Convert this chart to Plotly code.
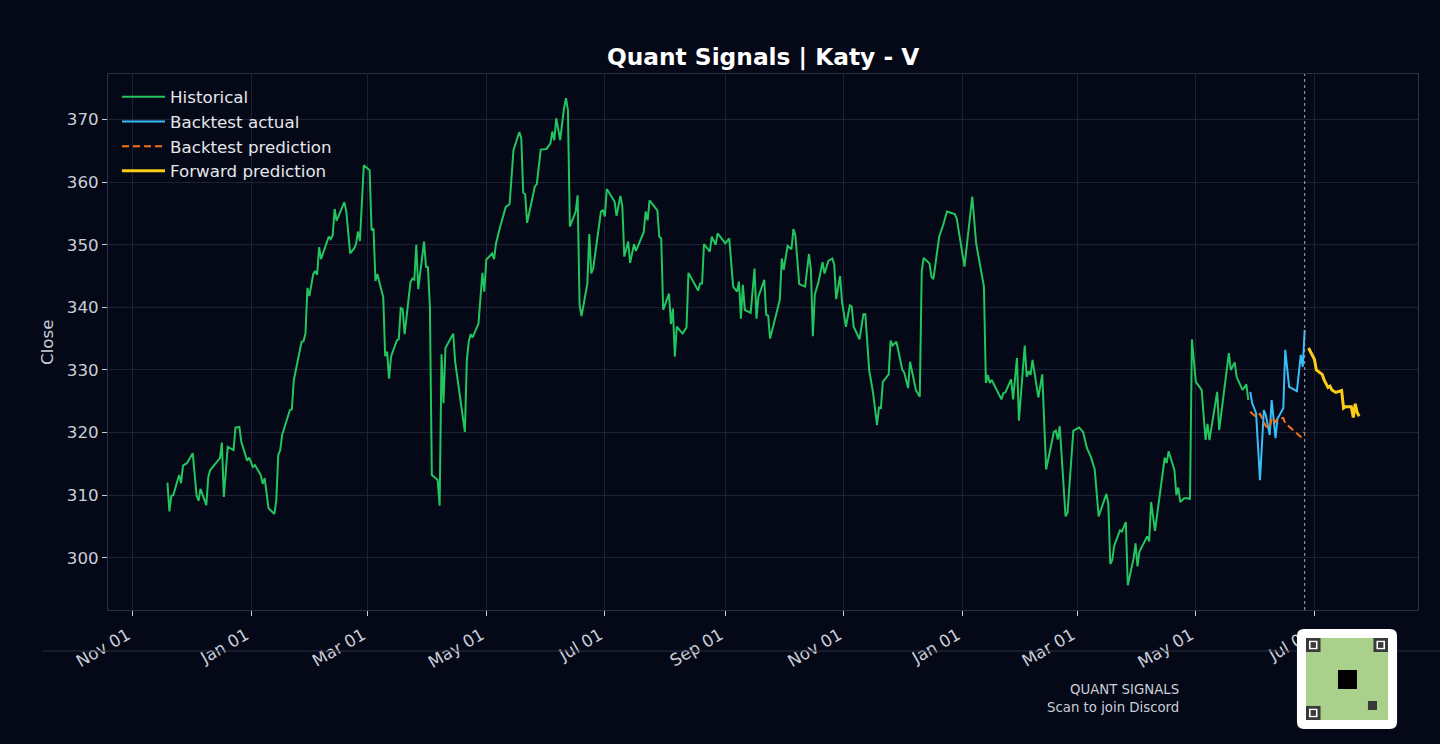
import plotly.graph_objects as go

# ---------------- data ----------------
hist_dates = [
    "2023-11-19", "2023-11-20", "2023-11-21", "2023-11-22", "2023-11-25", "2023-11-26", "2023-11-27", "2023-11-29",
    "2023-12-02", "2023-12-04", "2023-12-05", "2023-12-06", "2023-12-09", "2023-12-10", "2023-12-11", "2023-12-16",
    "2023-12-17", "2023-12-18", "2023-12-20", "2023-12-23", "2023-12-24", "2023-12-26", "2023-12-27", "2023-12-30",
    "2023-12-31", "2024-01-02", "2024-01-03", "2024-01-06", "2024-01-07", "2024-01-08", "2024-01-10", "2024-01-13",
    "2024-01-14", "2024-01-15", "2024-01-16", "2024-01-17", "2024-01-21", "2024-01-22", "2024-01-23", "2024-01-27",
    "2024-01-28", "2024-01-29", "2024-01-30", "2024-01-31", "2024-02-02", "2024-02-03", "2024-02-04", "2024-02-05",
    "2024-02-06", "2024-02-10", "2024-02-11", "2024-02-12", "2024-02-13", "2024-02-14", "2024-02-18", "2024-02-19",
    "2024-02-21", "2024-02-23", "2024-02-24", "2024-02-25", "2024-02-26", "2024-02-28", "2024-03-02", "2024-03-03",
    "2024-03-04", "2024-03-05", "2024-03-06", "2024-03-09", "2024-03-10", "2024-03-11", "2024-03-12", "2024-03-13",
    "2024-03-16", "2024-03-17", "2024-03-18", "2024-03-19", "2024-03-20", "2024-03-23", "2024-03-24", "2024-03-25",
    "2024-03-26", "2024-03-27", "2024-03-30", "2024-03-31", "2024-04-01", "2024-04-02", "2024-04-03", "2024-04-06",
    "2024-04-07", "2024-04-08", "2024-04-09", "2024-04-10", "2024-04-14", "2024-04-15", "2024-04-20", "2024-04-21",
    "2024-04-22", "2024-04-23", "2024-04-24", "2024-04-27", "2024-04-29", "2024-04-30", "2024-05-01", "2024-05-04",
    "2024-05-05", "2024-05-06", "2024-05-08", "2024-05-11", "2024-05-13", "2024-05-15", "2024-05-18", "2024-05-19",
    "2024-05-20", "2024-05-21", "2024-05-22", "2024-05-26", "2024-05-27", "2024-05-29", "2024-06-01", "2024-06-03",
    "2024-06-04", "2024-06-05", "2024-06-06", "2024-06-08", "2024-06-10", "2024-06-11", "2024-06-12", "2024-06-13",
    "2024-06-16", "2024-06-17", "2024-06-18", "2024-06-19", "2024-06-22", "2024-06-23", "2024-06-24", "2024-06-25",
    "2024-06-29", "2024-06-30", "2024-07-01", "2024-07-02", "2024-07-06", "2024-07-07", "2024-07-09", "2024-07-10",
    "2024-07-11", "2024-07-13", "2024-07-14", "2024-07-16", "2024-07-17", "2024-07-21", "2024-07-22", "2024-07-23",
    "2024-07-24", "2024-07-28", "2024-07-29", "2024-07-30", "2024-07-31", "2024-08-03", "2024-08-04", "2024-08-05",
    "2024-08-06", "2024-08-07", "2024-08-10", "2024-08-12", "2024-08-13", "2024-08-18", "2024-08-19", "2024-08-20",
    "2024-08-21", "2024-08-24", "2024-08-25", "2024-08-27", "2024-08-28", "2024-09-01", "2024-09-03", "2024-09-05",
    "2024-09-07", "2024-09-08", "2024-09-09", "2024-09-10", "2024-09-11", "2024-09-14", "2024-09-16", "2024-09-17",
    "2024-09-18", "2024-09-21", "2024-09-22", "2024-09-23", "2024-09-24", "2024-09-26", "2024-09-29", "2024-09-30",
    "2024-10-01", "2024-10-03", "2024-10-05", "2024-10-06", "2024-10-07", "2024-10-09", "2024-10-12", "2024-10-14",
    "2024-10-15", "2024-10-16", "2024-10-17", "2024-10-19", "2024-10-21", "2024-10-22", "2024-10-24", "2024-10-26",
    "2024-10-27", "2024-10-28", "2024-10-30", "2024-10-31", "2024-11-02", "2024-11-04", "2024-11-05", "2024-11-06",
    "2024-11-09", "2024-11-11", "2024-11-12", "2024-11-14", "2024-11-16", "2024-11-18", "2024-11-19", "2024-11-20",
    "2024-11-21", "2024-11-24", "2024-11-25", "2024-11-26", "2024-11-28", "2024-12-01", "2024-12-02", "2024-12-04",
    "2024-12-05", "2024-12-08", "2024-12-10", "2024-12-11", "2024-12-12", "2024-12-15", "2024-12-16", "2024-12-17",
    "2024-12-19", "2024-12-20", "2024-12-22", "2024-12-24", "2024-12-28", "2024-12-29", "2025-01-02", "2025-01-06",
    "2025-01-08", "2025-01-12", "2025-01-13", "2025-01-14", "2025-01-15", "2025-01-16", "2025-01-21", "2025-01-22",
    "2025-01-23", "2025-01-26", "2025-01-27", "2025-01-29", "2025-01-30", "2025-02-02", "2025-02-03", "2025-02-04",
    "2025-02-05", "2025-02-06", "2025-02-09", "2025-02-11", "2025-02-13", "2025-02-17", "2025-02-18", "2025-02-19",
    "2025-02-20", "2025-02-23", "2025-02-24", "2025-02-27", "2025-03-02", "2025-03-04", "2025-03-06", "2025-03-08",
    "2025-03-10", "2025-03-12", "2025-03-16", "2025-03-17", "2025-03-18", "2025-03-19", "2025-03-20", "2025-03-23",
    "2025-03-24", "2025-03-26", "2025-03-27", "2025-03-30", "2025-03-31", "2025-04-01", "2025-04-02", "2025-04-06",
    "2025-04-07", "2025-04-08", "2025-04-10", "2025-04-13", "2025-04-15", "2025-04-16", "2025-04-17", "2025-04-20",
    "2025-04-21", "2025-04-22", "2025-04-23", "2025-04-25", "2025-04-27", "2025-04-28", "2025-04-29", "2025-05-01",
    "2025-05-04", "2025-05-06", "2025-05-07", "2025-05-08", "2025-05-12", "2025-05-13", "2025-05-18", "2025-05-19",
    "2025-05-21", "2025-05-22", "2025-05-25", "2025-05-27", "2025-05-28",
]
hist_close = [
    312.0, 307.4, 309.9, 310.0, 313.2, 311.9, 314.7, 315.1,
    316.7, 309.9, 309.1, 311.0, 308.4, 312.9, 314.0, 315.9,
    318.4, 309.7, 317.7, 317.2, 320.8, 320.9, 318.5, 315.5,
    316.0, 314.5, 314.8, 313.2, 311.8, 312.7, 307.9, 307.0,
    309.2, 316.4, 317.2, 319.6, 323.6, 323.7, 328.4, 334.5,
    334.6, 335.8, 343.1, 341.8, 345.3, 345.8, 345.2, 349.6,
    347.7, 351.3, 350.9, 351.5, 355.7, 353.8, 356.8, 355.3,
    348.6, 349.4, 350.1, 352.1, 350.6, 362.7, 361.9, 352.3,
    352.6, 344.2, 345.3, 341.6, 332.2, 332.9, 328.6, 332.1,
    334.7, 334.9, 339.9, 339.7, 335.7, 344.0, 344.6, 344.4,
    350.0, 342.9, 350.5, 346.5, 346.4, 340.1, 313.2, 312.4,
    308.3, 332.5, 324.7, 333.5, 335.8, 331.3, 320.1, 331.6,
    334.5, 335.7, 335.2, 337.4, 345.5, 342.5, 347.6, 348.6,
    347.7, 350.2, 352.7, 356.0, 356.5, 365.1, 368.0, 367.0,
    358.3, 358.1, 353.5, 359.3, 359.7, 365.2, 365.3, 366.2,
    368.1, 366.7, 370.2, 366.7, 371.8, 373.4, 371.5, 352.9,
    355.3, 357.9, 340.4, 338.6, 343.8, 351.7, 345.4, 346.2,
    355.3, 355.5, 354.5, 358.9, 356.9, 354.6, 357.8, 356.1,
    348.1, 350.5, 347.1, 350.1, 349.0, 352.0, 355.3, 353.9,
    357.1, 355.5, 351.3, 351.0, 339.6, 342.2, 337.3, 339.8,
    332.1, 336.9, 335.8, 336.8, 345.5, 342.7, 343.8, 343.8,
    350.1, 348.9, 351.3, 350.0, 351.8, 350.2, 351.0, 343.3,
    342.5, 344.1, 338.2, 343.6, 339.6, 339.1, 346.2, 338.2,
    341.7, 344.4, 338.8, 338.7, 335.0, 337.4, 341.2, 347.8,
    346.0, 349.8, 349.3, 352.5, 351.5, 343.7, 343.3, 348.5,
    346.0, 335.4, 342.0, 344.2, 347.2, 345.4, 347.4, 347.8,
    346.8, 341.3, 345.0, 340.9, 336.9, 340.3, 340.1, 336.9,
    334.9, 338.9, 338.9, 329.9, 326.3, 321.2, 324.0, 323.9,
    328.1, 329.3, 334.7, 333.9, 334.5, 330.0, 329.6, 327.1,
    331.3, 326.8, 325.7, 345.7, 347.9, 347.0, 344.9, 344.5,
    349.2, 351.3, 353.1, 355.3, 354.9, 354.2, 346.5, 357.7,
    350.2, 343.3, 327.9, 329.2, 327.9, 328.4, 325.3, 326.3,
    326.4, 328.5, 325.3, 331.9, 321.9, 333.9, 328.9, 329.8,
    329.2, 331.6, 325.6, 329.3, 314.1, 320.1, 320.3, 318.9,
    321.0, 306.6, 307.2, 320.3, 320.8, 320.1, 317.5, 316.1,
    314.1, 306.6, 310.2, 308.6, 299.0, 299.6, 301.9, 304.4,
    304.2, 305.7, 295.6, 299.9, 302.3, 298.6, 301.0, 303.4,
    302.6, 308.9, 304.3, 311.3, 316.0, 315.1, 317.0, 314.0,
    310.0, 311.2, 308.9, 309.5, 309.5, 309.3, 334.9, 328.1,
    326.8, 318.8, 321.4, 318.8, 326.5, 320.4, 332.7, 330.0,
    331.2, 328.9, 326.8, 327.7, 325.2,
]

bt_dates = [
    "2025-05-29", "2025-05-30", "2025-06-01", "2025-06-03", "2025-06-05", "2025-06-06", "2025-06-08", "2025-06-09",
    "2025-06-11", "2025-06-12", "2025-06-15", "2025-06-16", "2025-06-18", "2025-06-22", "2025-06-24", "2025-06-25",
    "2025-06-26",
]
bt_actual = [
    326.5, 324.7, 323.1, 312.4, 323.6, 322.8, 319.6, 325.2,
    319.1, 322.2, 323.9, 333.2, 327.3, 326.6, 332.4, 330.5,
    336.4,
]

bt_pred_dates = [
    "2025-05-29", "2025-06-01", "2025-06-03", "2025-06-05", "2025-06-06", "2025-06-08", "2025-06-09", "2025-06-11",
    "2025-06-12", "2025-06-15", "2025-06-16", "2025-06-20", "2025-06-24", "2025-06-26",
]
bt_pred = [
    323.3, 322.5, 323.0, 321.7, 321.0, 320.7, 322.4, 321.7,
    322.2, 322.3, 321.5, 320.4, 319.3, 320.1,
]

fwd_dates = [
    "2025-06-28", "2025-06-30", "2025-07-01", "2025-07-02", "2025-07-05", "2025-07-06", "2025-07-08", "2025-07-09",
    "2025-07-10", "2025-07-12", "2025-07-13", "2025-07-15", "2025-07-16", "2025-07-17", "2025-07-20", "2025-07-21",
    "2025-07-22", "2025-07-23", "2025-07-24",
]
fwd_pred = [
    333.5, 332.4, 331.7, 330.0, 329.3, 328.4, 327.2, 327.4,
    326.8, 326.4, 326.5, 326.7, 323.9, 324.1, 324.1, 322.4,
    324.6, 323.2, 322.6,
]

split_date = "2025-06-26"
title_text = "Quant Signals | Katy - V"
y_ticks = [300, 310, 320, 330, 340, 350, 360, 370]

# ---------------- styling ----------------
BG = "#050816"
GRID = "#1c2231"
FRAME = "#2a3142"
TXT = "#c9ced8"
FONT = "DejaVu Sans"

fig = go.Figure()
fig.add_trace(go.Scatter(x=hist_dates, y=hist_close, mode="lines", name="Historical",
                         line=dict(color="#22c55e", width=2), legendgroup="a"))
fig.add_trace(go.Scatter(x=bt_dates, y=bt_actual, mode="lines", name="Backtest actual",
                         line=dict(color="#38bdf8", width=2), legendgroup="b"))
fig.add_trace(go.Scatter(x=bt_pred_dates, y=bt_pred, mode="lines", name="Backtest prediction",
                         line=dict(color="#f97316", width=2, dash="7px,4px"), legendgroup="c"))
fig.add_trace(go.Scatter(x=fwd_dates, y=fwd_pred, mode="lines", name="Forward prediction",
                         line=dict(color="#facc15", width=3), legendgroup="d"))

fig.add_shape(type="line", xref="x", yref="paper", x0=split_date, x1=split_date, y0=0, y1=1,
              line=dict(color="#a3a9b6", width=1, dash="dot"))

# footer separator line
fig.add_shape(type="line", xref="paper", yref="paper", x0=-0.0496, x1=1.02, y0=-0.0765, y1=-0.0765,
              line=dict(color="#2a3142", width=1))

# QR badge (decorative)
fig.add_shape(type="path", xref="paper", yref="paper",
              path="M 0.9130,-0.0354 L 0.9786,-0.0354 Q 0.9840,-0.0354 0.9840,-0.0485 "
                   "L 0.9840,-0.2089 Q 0.9840,-0.2220 0.9786,-0.2220 L 0.9130,-0.2220 "
                   "Q 0.9076,-0.2220 0.9076,-0.2089 L 0.9076,-0.0485 Q 0.9076,-0.0354 0.9130,-0.0354 Z",
              fillcolor="white", line=dict(color="white", width=0), layer="above")
fig.add_shape(type="rect", xref="paper", yref="paper", x0=0.9145, x1=0.9771, y0=-0.2052, y1=-0.0522,
              fillcolor="#a9d18c", line=dict(width=0), layer="above")
for (qx, qy) in [(0.9145, -0.0522), (0.9660, -0.0522), (0.9145, -0.1790)]:
    fig.add_shape(type="rect", xref="paper", yref="paper", x0=qx, x1=qx + 0.0111, y0=qy - 0.0262, y1=qy,
                  fillcolor="#3a3a3a", line=dict(width=0), layer="above")
    fig.add_shape(type="rect", xref="paper", yref="paper", x0=qx + 0.0023, x1=qx + 0.0088, y0=qy - 0.0210, y1=qy - 0.0052,
                  fillcolor="white", line=dict(width=0), layer="above")
    fig.add_shape(type="rect", xref="paper", yref="paper", x0=qx + 0.0035, x1=qx + 0.0076, y0=qy - 0.0185, y1=qy - 0.0077,
                  fillcolor="#3a3a3a", line=dict(width=0), layer="above")
fig.add_shape(type="rect", xref="paper", yref="paper", x0=0.9389, x1=0.9534, y0=-0.1474, y1=-0.1119,
              fillcolor="black", line=dict(width=0), layer="above")
fig.add_shape(type="rect", xref="paper", yref="paper", x0=0.9618, x1=0.9687, y0=-0.1866, y1=-0.1698,
              fillcolor="#3a3a3a", line=dict(width=0), layer="above")

fig.add_annotation(text="Close", xref="paper", yref="paper", x=-0.0466, y=0.5, textangle=-90,
                   showarrow=False, font=dict(family=FONT, size=16.7, color=TXT), xanchor="center", yanchor="middle")
fig.add_annotation(text="QUANT SIGNALS", xref="paper", yref="paper", x=0.8191, y=-0.1474,
                   showarrow=False, font=dict(family=FONT, size=13.3, color=TXT), xanchor="right", yanchor="middle")
fig.add_annotation(text="Scan to join Discord", xref="paper", yref="paper", x=0.8191, y=-0.1828,
                   showarrow=False, font=dict(family=FONT, size=13.3, color=TXT), xanchor="right", yanchor="middle")

fig.update_layout(
    width=1440, height=744,
    paper_bgcolor=BG, plot_bgcolor=BG,
    margin=dict(l=108, r=22, t=74, b=134),
    font=dict(family=FONT, color=TXT, size=16),
    title=dict(text="<b>" + title_text + "</b>", x=0.5299, xanchor="center", y=0.9234, yanchor="middle",
               font=dict(family=FONT, size=23.3, color="white")),
    showlegend=True,
    legend=dict(x=0.0069, y=0.99, xanchor="left", yanchor="top", bgcolor="rgba(0,0,0,0)",
                font=dict(family=FONT, size=16.7, color="#e5e7eb"), tracegroupgap=0, itemwidth=43),
    xaxis=dict(range=["2023-10-19 10:00", "2025-08-23 07:00"], type="date",
               tick0="2023-11-01", dtick="M2", tickformat="%b %d", tickangle=-30,
               showgrid=True, gridcolor=GRID, gridwidth=1,
               showline=True, linecolor=FRAME, mirror=True, linewidth=1,
               ticks="outside", ticklen=5, tickcolor=TXT, zeroline=False,
               ticklabelshift=-5, ticklabelstandoff=3,
               tickfont=dict(family=FONT, size=16.7, color=TXT)),
    yaxis=dict(range=[291.65, 377.27], tickvals=y_ticks,
               showgrid=True, gridcolor=GRID, gridwidth=1,
               showline=True, linecolor=FRAME, mirror=True, linewidth=1,
               ticks="outside", ticklen=5, tickcolor=TXT, zeroline=False,
               tickfont=dict(family=FONT, size=16.7, color=TXT)),
)

fig.write_html("out.html")
